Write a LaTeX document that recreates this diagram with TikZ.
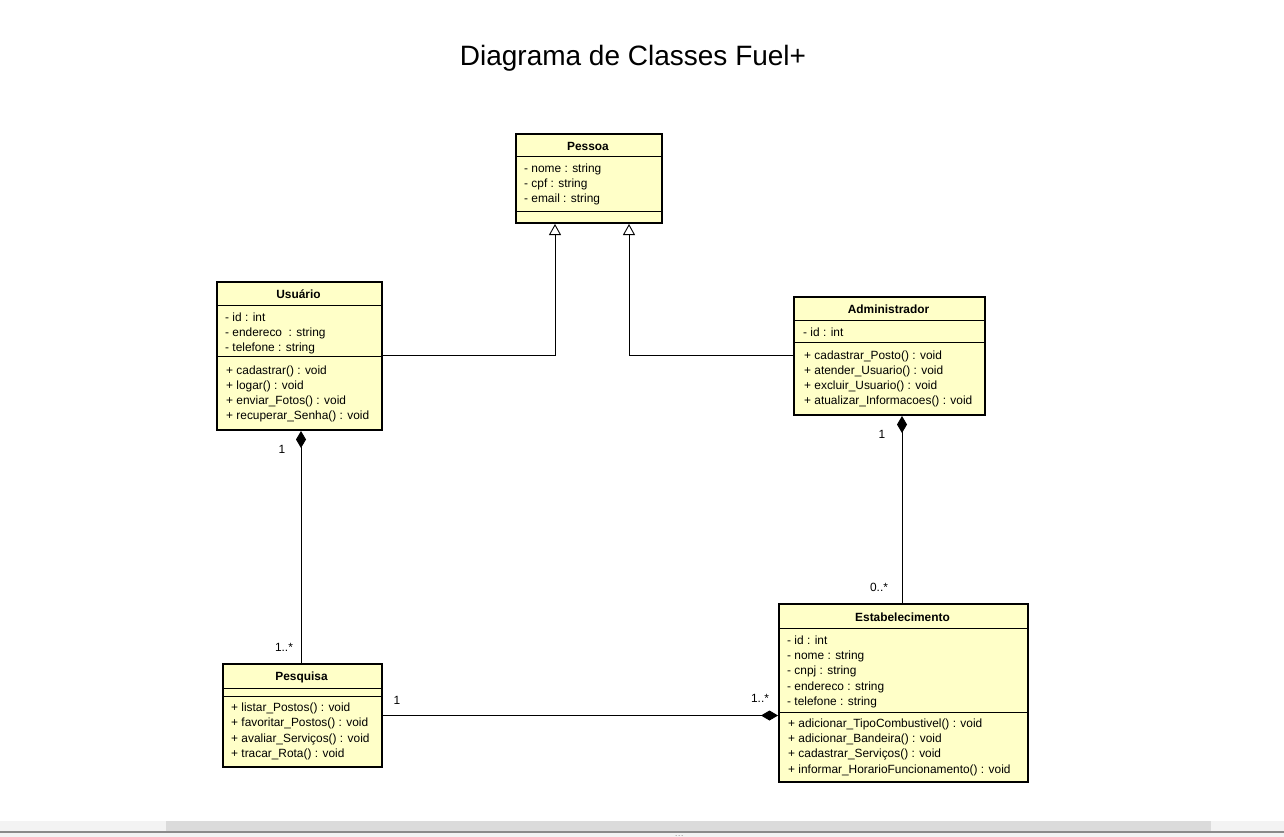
\documentclass[tikz,border=0pt]{standalone}
\usepackage{fontspec}
\setmainfont{Liberation Sans}
\usetikzlibrary{arrows.meta}
\definecolor{clsfill}{HTML}{FFFFC8}
\definecolor{sbbg}{HTML}{F3F3F3}
\definecolor{sbthumb}{HTML}{DBDBDB}
\definecolor{sbline}{HTML}{8A8A8A}
\begin{document}
\begin{tikzpicture}[x=1pt,y=-1pt,
  cls/.style={draw=black, line width=2pt, fill=clsfill, rectangle, inner sep=0pt, anchor=north west},
  sep/.style={line width=1pt},
  ttl/.style={font=\fontsize{11.9}{14}\selectfont\bfseries, anchor=base, inner sep=0pt},
  row/.style={font=\fontsize{11.9}{14}\selectfont, anchor=base west, inner sep=0pt},
  lbl/.style={font=\fontsize{11.9}{14}\selectfont, anchor=base, inner sep=0pt},
  conn/.style={line width=0.9pt, draw=black},
  gen/.style={conn, -{Triangle[open, width=12pt, length=11pt, line width=0.9pt, fill=white]}},
  comp/.style={conn, {Diamond[width=10pt, length=17pt]}-}]
\useasboundingbox (0,0) rectangle (1284,837);
\fill[white] (0,0) rectangle (1284,837);

% title
\node[font=\fontsize{28}{32}\selectfont, anchor=base, inner sep=0pt] (title) at (633,66) {Diagrama de Classes Fuel+};

% Pessoa
\node[cls, minimum width=146pt, minimum height=89pt] (pes) at (515,133) {};
\draw[sep] (515,157) -- (661,157);
\draw[sep] (515,211) -- (661,211);
\node[ttl] (pes-t) at (588,151) {Pessoa};
\node[row] (pes-a1) at (524,173) {- nome : string};
\node[row] (pes-a2) at (524,188) {- cpf : string};
\node[row] (pes-a3) at (524,203) {- email : string};

% Usuario
\node[cls, minimum width=165pt, minimum height=148pt] (usu) at (216,281) {};
\draw[sep] (216,305) -- (381,305);
\draw[sep] (216,356) -- (381,356);
\node[ttl] (usu-t) at (298.5,298) {Usuário};
\node[row] (usu-a1) at (225,321) {- id : int};
\node[row] (usu-a2) at (225,336) {- endereco \ : string};
\node[row] (usu-a3) at (225,351) {- telefone : string};
\node[row] (usu-m1) at (226,374) {+ cadastrar() : void};
\node[row] (usu-m2) at (226,389) {+ logar() : void};
\node[row] (usu-m3) at (226,404) {+ enviar\_Fotos() : void};
\node[row] (usu-m4) at (226,419) {+ recuperar\_Senha() : void};

% Administrador
\node[cls, minimum width=191pt, minimum height=118pt] (adm) at (793,296) {};
\draw[sep] (793,320) -- (984,320);
\draw[sep] (793,342) -- (984,342);
\node[ttl] (adm-t) at (888.5,313) {Administrador};
\node[row] (adm-a1) at (803,336) {- id : int};
\node[row] (adm-m1) at (804,359) {+ cadastrar\_Posto() : void};
\node[row] (adm-m2) at (804,374) {+ atender\_Usuario() : void};
\node[row] (adm-m3) at (804,389) {+ excluir\_Usuario() : void};
\node[row] (adm-m4) at (804,404) {+ atualizar\_Informacoes() : void};

% Pesquisa
\node[cls, minimum width=159pt, minimum height=103pt] (psq) at (222,663) {};
\draw[sep] (222,688) -- (381,688);
\draw[sep] (222,696) -- (381,696);
\node[ttl] (psq-t) at (301.5,680) {Pesquisa};
\node[row] (psq-m1) at (231,711) {+ listar\_Postos() : void};
\node[row] (psq-m2) at (231,726) {+ favoritar\_Postos() : void};
\node[row] (psq-m3) at (231,742) {+ avaliar\_Serviços() : void};
\node[row] (psq-m4) at (231,757) {+ tracar\_Rota() : void};

% Estabelecimento
\node[cls, minimum width=249pt, minimum height=178pt] (est) at (778,603) {};
\draw[sep] (778,628) -- (1027,628);
\draw[sep] (778,712) -- (1027,712);
\node[ttl] (est-t) at (902.5,621) {Estabelecimento};
\node[row] (est-a1) at (787,644) {- id : int};
\node[row] (est-a2) at (787,659) {- nome : string};
\node[row] (est-a3) at (787,674) {- cnpj : string};
\node[row] (est-a4) at (787,690) {- endereco : string};
\node[row] (est-a5) at (787,705) {- telefone : string};
\node[row] (est-m1) at (788,727) {+ adicionar\_TipoCombustivel() : void};
\node[row] (est-m2) at (788,742) {+ adicionar\_Bandeira() : void};
\node[row] (est-m3) at (788,757) {+ cadastrar\_Serviços() : void};
\node[row] (est-m4) at (788,773) {+ informar\_HorarioFuncionamento() : void};

% connector coordinates
\coordinate (g1) at (555,355);
\coordinate (g2) at (629,355);
\coordinate (c1) at (301,0);
\coordinate (c2) at (902,0);
\coordinate (c3) at (0,715.5);

% generalizations
\draw[gen] (usu.east |- g1) -- (g1) -- (g1 |- pes.south);
\draw[gen] (adm.west |- g2) -- (g2) -- (g2 |- pes.south);

% compositions
\draw[comp] (c1 |- usu.south) -- (c1 |- psq.north);
\draw[comp] (c2 |- adm.south) -- (c2 |- est.north);
\draw[comp] (est.west |- c3) -- (psq.east |- c3);

% multiplicities
\node[lbl] (m1) at (282,453) {1};
\node[lbl] (m2) at (284,651) {1..*};
\node[lbl] (m3) at (882,438) {1};
\node[lbl] (m4) at (879,591) {0..*};
\node[lbl] (m5) at (397,704) {1};
\node[lbl] (m6) at (760,702) {1..*};

% scrollbar
\fill[sbbg] (0,821) rectangle (1284,831);
\fill[sbthumb] (166,821) rectangle (1211,831);
\draw[sbline, line width=1.5pt] (0,831.75) -- (1284,831.75);
\fill[sbbg] (0,832.5) rectangle (1284,837);
\fill[gray] (676,835.5) circle (0.5pt) (679,835.5) circle (0.5pt) (682,835.5) circle (0.5pt);
\end{tikzpicture}
\end{document}
